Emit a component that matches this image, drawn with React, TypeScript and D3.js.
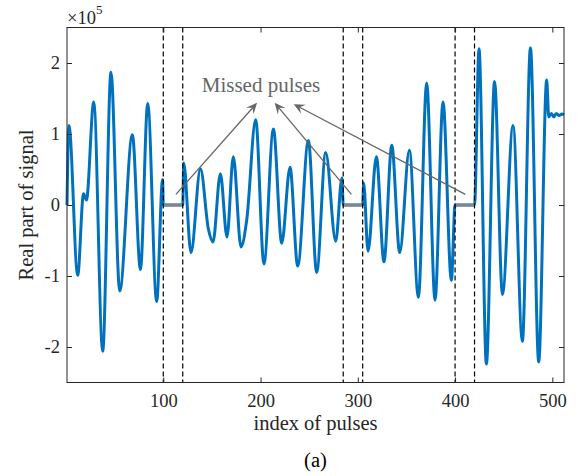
import React, { useRef, useEffect } from 'react';
import * as d3 from 'd3';

// pulse index of the turning points of the signal
const pulseIdx = [
  1, 3, 12, 18, 21, 28.5, 37.7, 46.2, 55.2, 68.2, 76.5, 84, 93.2, 99.3, 100,
  120, 121, 128.5, 138.2, 146.4, 151.1, 158.7, 165.5, 172, 179.9, 185.8, 195, 203.5,
  213.2, 221.8, 230.3, 238.2, 249.2, 257.7, 267, 277.3, 283.7, 285,
  305, 306, 310.5, 319.1, 326.9, 334.9, 343.1, 353, 362.3, 370.8, 379.4, 387.6, 396.2, 400,
  420, 424.6, 432.2, 440.6, 448.7, 459.6, 469.2, 477.5, 486, 494.2, 496.3, 499, 501.5,
  504, 507, 510, 512,
];
// real part of signal (x 1e5)
const realPart = [
  0, 1.12, -0.99, 0.16, 0.07, 1.45, -2.06, 1.87, -1.21, 0.99, -0.91, 1.43, -1.36, 0.36, 0,
  0, 0.59, -0.67, 0.51, -0.34, -0.52, 0.44, -0.45, 0.68, -0.59, -0.21, 1.2, -0.83,
  1.07, -0.54, 0.53, -0.86, 0.91, -0.95, 0.74, -0.51, 0.38, 0,
  0, 0.31, -0.65, 0.68, -0.8, 0.84, -0.67, 0.77, -1.3, 1.72, -1.34, 1.45, -1.06, 0,
  0, 2.2, -2.24, 1.74, -1.26, 1.12, -1.92, 2.21, -2.21, 1.76, 1.24, 1.29, 1.24,
  1.29, 1.26, 1.28, 1.27,
];

// missed pulse windows
const gapStart = [100, 285, 400];
const gapEnd = [120, 305, 420];

const xTicks = [100, 200, 300, 400, 500];
const yTicks = [-2, -1, 0, 1, 2];

// annotation arrows (tail -> head), data units
const arrowTailX = [113, 293.4, 410.6];
const arrowTailY = [0.15, 0.15, 0.15];
const arrowHeadX = [196.4, 214.5, 234.1];
const arrowHeadY = [1.44, 1.44, 1.42];
const noteText = 'Missed pulses';
const noteX = 139.5;
const noteY = 1.59;

function App() {
  const chartRef = useRef<SVGSVGElement>(null);

  useEffect(() => {
    drawChart();
  }, []);

  const drawChart = () => {
    const W = 578;
    const H = 476;
    const left = 67;
    const right = 564;
    const top = 27.5;
    const bottom = 382.5;
    const axisColor = '#262626';
    const font = '"Liberation Serif", "Times New Roman", serif';

    const svg = d3.select(chartRef.current);
    svg.selectAll('*').remove();
    svg.attr('width', W).attr('height', H);

    svg.append('rect').attr('width', W).attr('height', H).attr('fill', '#fff');

    const x = d3.scaleLinear().domain([1, 512]).range([left, right]);
    const y = d3.scaleLinear().domain([-2.5, 2.5]).range([bottom, top]);

    const data: [number, number][] = pulseIdx.map((p, i) => [p, realPart[i]]);

    // signal
    const line = d3
      .line<[number, number]>()
      .x((d) => x(d[0]))
      .y((d) => y(d[1]))
      .curve(d3.curveMonotoneX);

    svg
      .append('path')
      .datum(data)
      .attr('d', line)
      .attr('fill', 'none')
      .attr('stroke', '#0072BD')
      .attr('stroke-width', 3)
      .attr('stroke-linejoin', 'round');

    // gaps drawn in gray
    gapStart.forEach((g, i) => {
      svg
        .append('line')
        .attr('x1', x(g))
        .attr('x2', x(gapEnd[i]))
        .attr('y1', y(0))
        .attr('y2', y(0))
        .attr('stroke', '#858585')
        .attr('stroke-width', 2.8);
    });

    // dashed borders of the gaps
    const edges = gapStart.concat(gapEnd);
    svg
      .selectAll('line.edge')
      .data(edges)
      .enter()
      .append('line')
      .attr('class', 'edge')
      .attr('x1', (d) => x(d))
      .attr('x2', (d) => x(d))
      .attr('y1', top)
      .attr('y2', bottom)
      .attr('stroke', '#000')
      .attr('stroke-width', 1.2)
      .attr('stroke-dasharray', '5,3');

    // annotation arrows
    const arrowColor = '#666666';
    arrowTailX.forEach((tx, i) => {
      const x0 = x(tx);
      const y0 = y(arrowTailY[i]);
      const x1 = x(arrowHeadX[i]);
      const y1 = y(arrowHeadY[i]);
      const ang = Math.atan2(y1 - y0, x1 - x0);
      const len = 11;
      const wid = 5;
      const bx = x1 - len * Math.cos(ang);
      const by = y1 - len * Math.sin(ang);
      const nx = x1 - len * 0.6 * Math.cos(ang);
      const ny = y1 - len * 0.6 * Math.sin(ang);
      const px = -Math.sin(ang) * wid;
      const py = Math.cos(ang) * wid;
      svg
        .append('line')
        .attr('x1', x0)
        .attr('y1', y0)
        .attr('x2', nx)
        .attr('y2', ny)
        .attr('stroke', arrowColor)
        .attr('stroke-width', 1.3);
      svg
        .append('path')
        .attr('d', `M${x1},${y1}L${bx + px},${by + py}L${nx},${ny}L${bx - px},${by - py}Z`)
        .attr('fill', arrowColor);
    });

    svg
      .append('text')
      .attr('x', x(noteX))
      .attr('y', y(noteY))
      .attr('font-family', font)
      .attr('font-size', 21)
      .attr('fill', arrowColor)
      .text(noteText);

    // axes: ticks inside, on all four sides
    const styleAxis = (g: any) => {
      g.select('.domain').remove();
      g.selectAll('line').attr('stroke', axisColor);
      g.selectAll('text').attr('fill', axisColor).attr('font-family', font).attr('font-size', 18.5);
    };

    svg
      .append('g')
      .attr('transform', `translate(0,${bottom})`)
      .call(d3.axisBottom(x).tickValues(xTicks).tickSizeInner(-5).tickSizeOuter(0).tickPadding(11))
      .call(styleAxis);
    svg
      .append('g')
      .attr('transform', `translate(0,${top})`)
      .call(d3.axisTop(x).tickValues(xTicks).tickSizeInner(-5).tickSizeOuter(0).tickFormat(() => ''))
      .call(styleAxis);
    svg
      .append('g')
      .attr('transform', `translate(${left},0)`)
      .call(
        d3
          .axisLeft(y)
          .tickValues(yTicks)
          .tickSizeInner(-5)
          .tickSizeOuter(0)
          .tickPadding(7)
          .tickFormat((d: any) => (d < 0 ? '-' + Math.abs(d) : String(d)))
      )
      .call(styleAxis);
    svg
      .append('g')
      .attr('transform', `translate(${right},0)`)
      .call(d3.axisRight(y).tickValues(yTicks).tickSizeInner(-5).tickSizeOuter(0).tickFormat(() => ''))
      .call(styleAxis);

    svg
      .append('rect')
      .attr('x', left)
      .attr('y', top)
      .attr('width', right - left)
      .attr('height', bottom - top)
      .attr('fill', 'none')
      .attr('stroke', axisColor)
      .attr('stroke-width', 1);

    // exponent
    const expo = svg
      .append('text')
      .attr('x', left)
      .attr('y', 23.5)
      .attr('font-family', font)
      .attr('font-size', 18.5)
      .attr('fill', axisColor);
    expo.append('tspan').text('\u00d710');
    expo.append('tspan').attr('dy', -10).attr('font-size', 13).text('5');

    // labels
    svg
      .append('text')
      .attr('x', (left + right) / 2)
      .attr('y', 430)
      .attr('text-anchor', 'middle')
      .attr('font-family', font)
      .attr('font-size', 20.5)
      .attr('fill', axisColor)
      .text('index of pulses');

    svg
      .append('text')
      .attr('transform', `translate(33,${(top + bottom) / 2}) rotate(-90)`)
      .attr('text-anchor', 'middle')
      .attr('font-family', font)
      .attr('font-size', 20.5)
      .attr('fill', axisColor)
      .text('Real part of signal');

    svg
      .append('text')
      .attr('x', (left + right) / 2)
      .attr('y', 467)
      .attr('text-anchor', 'middle')
      .attr('font-family', font)
      .attr('font-size', 20.5)
      .attr('fill', '#000')
      .text('(a)');
  };

  return <svg ref={chartRef} width={578} height={476} style={{ position: 'absolute', left: 0, top: 0 }} />;
}

export default App;
